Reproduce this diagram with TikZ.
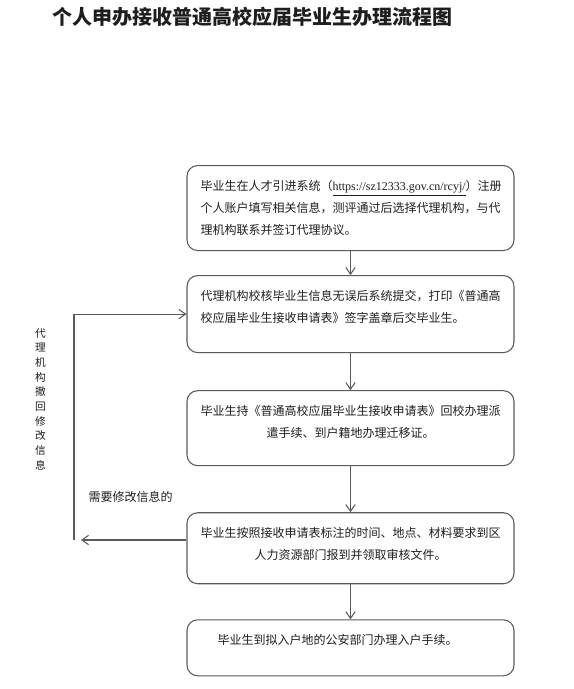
\documentclass[tikz,border=0pt]{standalone}
\usepackage{fontspec}
\setmainfont{Liberation Serif}
\newfontfamily\cjk{Noto Sans CJK SC}
\usepackage{tikz}
\usetikzlibrary{positioning,arrows.meta}
\definecolor{LineGray}{RGB}{90,90,90}
\definecolor{TextDark}{RGB}{30,30,30}

\begin{document}
\begin{tikzpicture}[x=0.75pt, y=-0.75pt,
    proc/.style={rectangle, draw=LineGray, line width=0.8pt, rounded corners=8pt,
                 text width=225pt, inner xsep=10.125pt, inner ysep=0pt,
                 text height=18.75pt, align=left, text=TextDark,
                 font=\cjk\fontsize{9}{16.5}\selectfont},
    ar/.style={-{Straight Barb[length=5pt,width=7pt]}, draw=LineGray, line width=0.8pt},
    lbl/.style={text=TextDark, inner sep=0pt, align=center}
]
    \useasboundingbox (0,0) rectangle (574,689);
    \node[lbl, font=\cjk\bfseries\fontsize{15}{18}\selectfont] (title) at (252.5,17)
        {个人申办接收普通高校应届毕业生办理流程图};

    % main steps
    \node[proc, text depth=45pt, anchor=north] (reg) at (350.5,165)
        {毕业生在人才引进系统（{\rmfamily\underline{https://sz12333.gov.cn/rcyj/}}）注册\\
         个人账户填写相关信息，测评通过后选择代理机构，与代\\
         理机构联系并签订代理协议。};
    \node[proc, text depth=39pt, below=18pt of reg] (chk)
        {代理机构校核毕业生信息无误后系统提交，打印《普通高\\
         校应届毕业生接收申请表》签字盖章后交毕业生。};
    \node[proc, text depth=37.5pt, align=center, below=27.75pt of chk] (sch)
        {毕业生持《普通高校应届毕业生接收申请表》回校办理派\\
         遣手续、到户籍地办理迁移证。};
    \node[proc, text depth=34.5pt, align=center, below=34.5pt of sch] (hr)
        {毕业生按照接收申请表标注的时间、地点、材料要求到区\\
         人力资源部门报到并领取审核文件。};
    \node[proc, text depth=23.25pt, below=26.25pt of hr] (pol)
        {\hspace*{12.75pt}毕业生到拟入户地的公安部门办理入户手续。};

    \draw[ar] (reg.south) -- (chk.north);
    \draw[ar] (chk.south) -- (sch.north);
    \draw[ar] (sch.south) -- (hr.north);
    \draw[ar] (hr.south) -- (pol.north);

    % return loop
    \coordinate (back) at (81,540);
    \coordinate (turn) at (74,540);
    \draw[ar] (back -| hr.west) -- (back);
    \draw[ar] (turn) |- (chk.west);

    \node[lbl, font=\cjk\fontsize{8}{11}\selectfont] (undo) at (40.5,399)
        {代\\理\\机\\构\\撤\\回\\修\\改\\信\\息};
    \node[lbl, font=\cjk\fontsize{9}{11}\selectfont] (need) at (130.5,497)
        {需要修改信息的};
\end{tikzpicture}
\end{document}
